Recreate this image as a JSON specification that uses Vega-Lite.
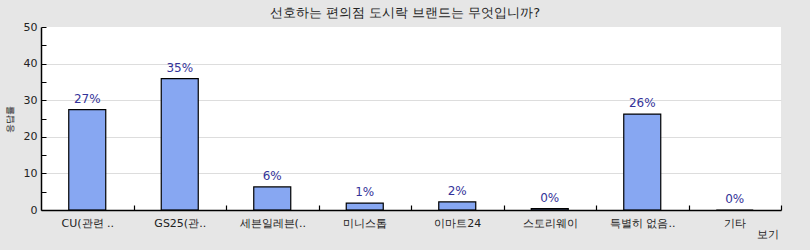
{
  "$schema": "https://vega.github.io/schema/vega-lite/v6.json",
  "width": 740,
  "height": 183,
  "autosize": {"type": "none"},
  "padding": {"left": 41, "top": 27, "right": 29, "bottom": 40},
  "background": "#e6e6e6",
  "title": {
    "text": "선호하는 편의점 도시락 브랜드는 무엇입니까?",
    "font": "DejaVu Sans",
    "fontSize": 13,
    "fontWeight": "normal",
    "color": "#222222",
    "anchor": "middle",
    "dx": -6,
    "offset": 1
  },
  "data": {
    "values": [
      {"brand": "CU(관련 ..", "value": 27.4, "label": "27%"},
      {"brand": "GS25(관..", "value": 35.9, "label": "35%"},
      {"brand": "세븐일레븐(..", "value": 6.3, "label": "6%"},
      {"brand": "미니스톱", "value": 1.9, "label": "1%"},
      {"brand": "이마트24", "value": 2.2, "label": "2%"},
      {"brand": "스토리웨이", "value": 0.4, "label": "0%"},
      {"brand": "특별히 없음..", "value": 26.2, "label": "26%"},
      {"brand": "기타", "value": 0, "label": "0%"}
    ]
  },
  "encoding": {
    "x": {
      "field": "brand",
      "type": "nominal",
      "sort": null,
      "scale": {"paddingInner": 0.6, "paddingOuter": 0.3},
      "axis": {
        "title": "보기",
        "titleFont": "DejaVu Sans",
        "titleFontSize": 11,
        "titleFontWeight": "normal",
        "titleColor": "#222222",
        "titleAnchor": "end",
        "titleAlign": "right",
        "titleX": 737,
        "titleY": 18,
        "labelAngle": 0,
        "labelFont": "DejaVu Sans",
        "labelFontSize": 11,
        "labelColor": "#222222",
        "labelPadding": 12,
        "bandPosition": 1,
        "tickOffset": 27.75,
        "labelOffset": -27.75,
        "ticks": true,
        "tickExtra": false,
        "tickSize": -5,
        "tickWidth": 1.2,
        "tickColor": "#000000",
        "tickOpacity": 1,
        "domainColor": "#000000",
        "domainWidth": 1.5,
        "grid": false,
        "zindex": 1
      }
    },
    "y": {
      "field": "value",
      "type": "quantitative",
      "scale": {"domain": [0, 50], "nice": false},
      "axis": {
        "title": "응답률",
        "titleFont": "DejaVu Sans",
        "titleFontSize": 9,
        "titleFontWeight": "normal",
        "titleColor": "#222222",
        "titleX": -27,
        "values": [0, 5, 10, 15, 20, 25, 30, 35, 40, 45, 50],
        "labelExpr": "datum.value % 10 === 0 ? datum.label : ''",
        "labelFont": "DejaVu Sans",
        "labelFontSize": 11,
        "labelColor": "#222222",
        "labelPadding": 9,
        "tickSize": -5,
        "tickColor": "#000000",
        "domainColor": "#000000",
        "domainWidth": 1.5,
        "grid": true,
        "gridColor": "#dddddd",
        "gridOpacity": {"condition": {"test": "datum.value % 10 === 0 && datum.value > 0 && datum.value < 50", "value": 1}, "value": 0}
      }
    }
  },
  "layer": [
    {
      "mark": {"type": "bar", "fill": "#87a7f2", "stroke": "#000000", "strokeWidth": 1.2}
    },
    {
      "mark": {"type": "text", "baseline": "bottom", "dy": -4, "font": "DejaVu Sans", "fontSize": 12, "color": "#333399"},
      "encoding": {"text": {"field": "label"}}
    }
  ],
  "config": {
    "view": {"fill": "#ffffff", "stroke": null}
  }
}
